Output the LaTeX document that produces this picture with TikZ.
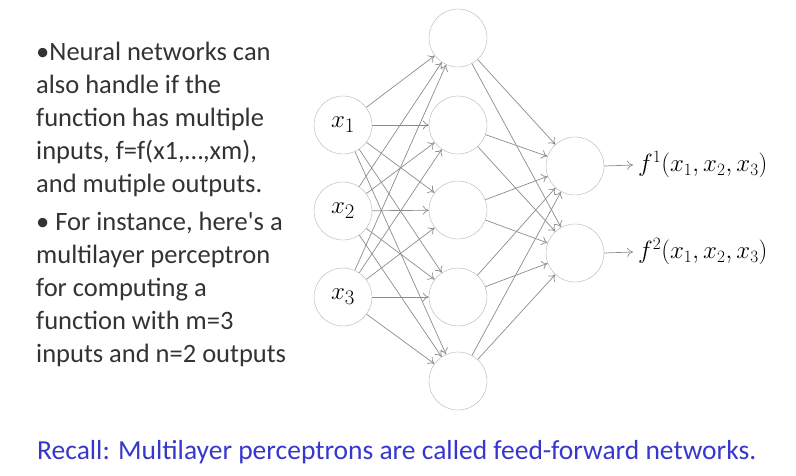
\documentclass[tikz,border=0pt]{standalone}
\usepackage[no-math]{fontspec}
\setmainfont{Carlito}
\usetikzlibrary{arrows.meta}
\definecolor{recallblue}{RGB}{55,55,205}
\begin{document}
\begin{tikzpicture}[x=1pt,y=-1pt,
    neuron/.style={draw=gray!60,circle,minimum size=58pt,inner sep=0pt,
      font=\fontsize{28}{32}\selectfont},
    edge/.style={draw=gray!90,line width=.7pt,-{To[length=6pt,width=9pt]}}]
  \useasboundingbox (0,0) rectangle (796,475);
  % layers
  \foreach \i/\y in {1/125,2/211,3/297}
    \node[neuron] (in\i) at (343,\y) {$x_\i$};
  \foreach \j/\y in {1/38,2/125,3/210,4/297,5/381}
    \node[neuron] (hid\j) at (458,\y) {};
  \foreach \k/\y in {1/166,2/253}
    \node[neuron] (out\k) at (575,\y) {};
  % connections
  \foreach \i in {1,2,3}
    \foreach \j in {1,...,5}
      \draw[edge] (in\i) -- (hid\j);
  \foreach \j in {1,...,5}
    \foreach \k in {1,2}
      \draw[edge] (hid\j) -- (out\k);
  \foreach \k in {1,2}{
    \node[anchor=west,inner sep=5pt,font=\fontsize{26.5}{30}\selectfont]
      (f\k) at (633,\ifnum\k=1 165\else 252\fi) {$f^\k(x_1, x_2, x_3)$};
    \draw[edge] (out\k.east) -- (f\k.west);
  }
  % text
  \node[anchor=north west,inner sep=0pt,align=left,text=black!80,
    font=\fontsize{26.5}{33}\selectfont] (txt) at (36,42)
    {\textbullet Neural networks can\\
     also handle if the\\
     function has multiple\\
     inputs, f=f(x1,…,xm),\\
     and mutiple outputs.\\[5pt]
     \textbullet{} For instance, here\textquotesingle s a\\
     multilayer perceptron\\
     for computing a\\
     function with m=3\\
     inputs and n=2 outputs};
  \node[anchor=base west,inner sep=0pt,text=recallblue,
    font=\fontsize{27.5}{32}\selectfont] (recall) at (37,459)
    {Recall: Multilayer perceptrons are called feed-forward networks.};
\end{tikzpicture}
\end{document}
